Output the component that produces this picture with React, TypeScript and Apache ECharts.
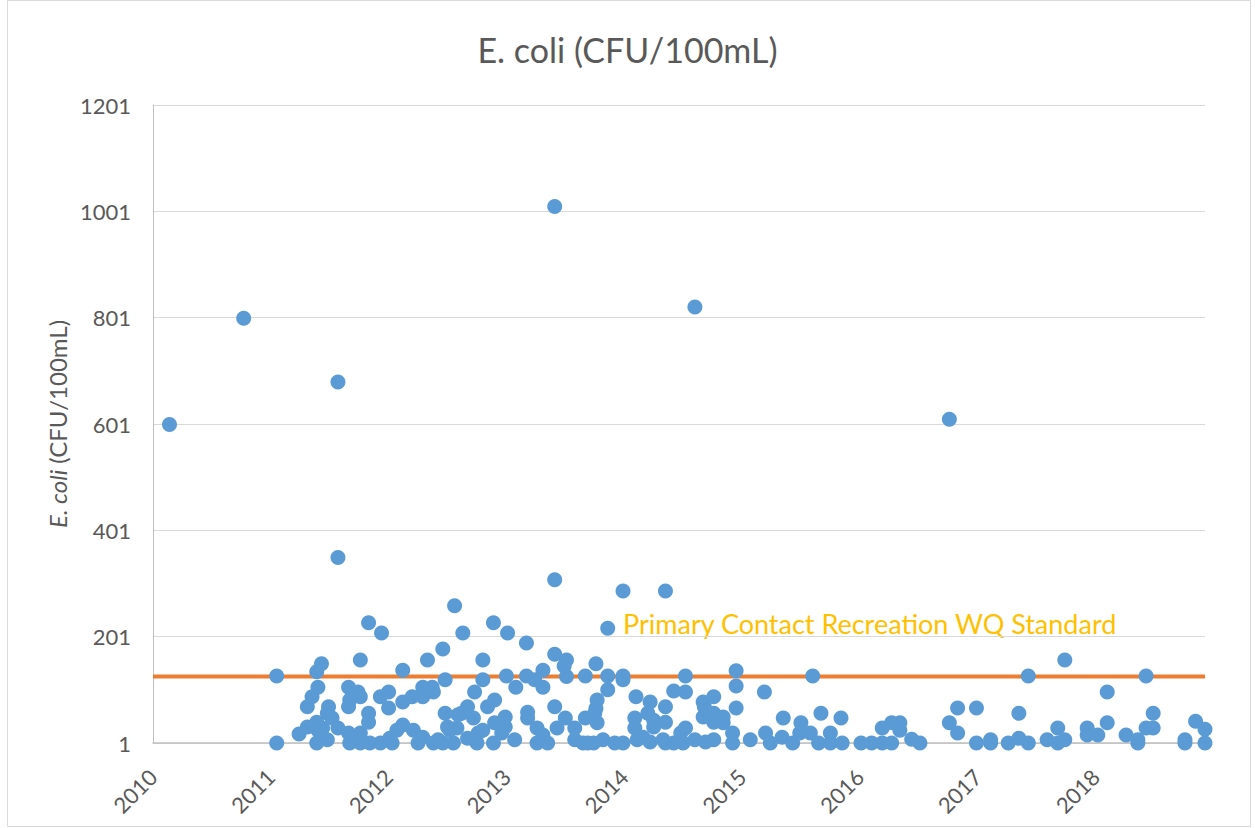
import { useEffect, useRef } from "react";
import * as echarts from "echarts";

const TITLE = "E. coli (CFU/100mL)";
const STANDARD_LABEL = "Primary Contact Recreation WQ Standard";
const STANDARD_VALUE = 126;
const X_MIN = 2010;
const X_MAX = 2018.93;
const Y_MIN = 1;
const Y_MAX = 1201;
const Y_STEP = 200;

// sample dates as decimal years
const sampleDates = [
  2010.14, 2010.77,
  2011.05, 2011.05, 2011.24, 2011.31, 2011.31, 2011.35, 2011.39, 2011.39, 2011.39, 2011.40,
  2011.40, 2011.43, 2011.44, 2011.48, 2011.48, 2011.49, 2011.52, 2011.57, 2011.57, 2011.57,
  2011.66, 2011.66, 2011.66, 2011.67, 2011.67, 2011.74, 2011.76, 2011.76, 2011.76, 2011.76,
  2011.83, 2011.83, 2011.83, 2011.84, 2011.93, 2011.93, 2011.94,
  2012.00, 2012.00, 2012.01, 2012.03, 2012.07, 2012.12, 2012.12, 2012.12, 2012.20, 2012.21,
  2012.25, 2012.29, 2012.29, 2012.29, 2012.33, 2012.37, 2012.38, 2012.38, 2012.42, 2012.46,
  2012.46, 2012.48, 2012.48, 2012.50, 2012.52, 2012.55, 2012.56, 2012.58, 2012.59, 2012.62,
  2012.63, 2012.67, 2012.67, 2012.72, 2012.73, 2012.75, 2012.76, 2012.80, 2012.80, 2012.80,
  2012.84, 2012.89, 2012.89, 2012.90, 2012.90, 2012.96, 2012.99, 2012.99,
  2013.00, 2013.01, 2013.07, 2013.08, 2013.17, 2013.17, 2013.18, 2013.18, 2013.24, 2013.26,
  2013.26, 2013.31, 2013.31, 2013.31, 2013.35, 2013.41, 2013.41, 2013.41, 2013.41, 2013.43,
  2013.49, 2013.51, 2013.51, 2013.50, 2013.58, 2013.58, 2013.65, 2013.67, 2013.67, 2013.69,
  2013.74, 2013.75, 2013.76, 2013.77, 2013.76, 2013.77, 2013.82, 2013.86, 2013.86, 2013.86,
  2013.92, 2013.99, 2013.99, 2013.99, 2013.99,
  2014.10, 2014.09, 2014.09, 2014.11, 2014.16, 2014.20, 2014.22, 2014.22, 2014.25, 2014.25,
  2014.33, 2014.35, 2014.35, 2014.35, 2014.35, 2014.42, 2014.42, 2014.48, 2014.50, 2014.52,
  2014.52, 2014.52, 2014.60, 2014.60, 2014.67, 2014.68, 2014.67, 2014.69, 2014.76, 2014.76,
  2014.76, 2014.76, 2014.84, 2014.84, 2014.92, 2014.92, 2014.95, 2014.95, 2014.95,
  2015.07, 2015.19, 2015.20, 2015.24, 2015.35, 2015.34, 2015.43, 2015.50, 2015.49, 2015.58,
  2015.60, 2015.65, 2015.67, 2015.75, 2015.75, 2015.84, 2015.85,
  2016.01, 2016.10, 2016.19, 2016.19, 2016.27, 2016.27, 2016.34, 2016.34, 2016.44, 2016.51,
  2016.76, 2016.76, 2016.83, 2016.83, 2016.99, 2016.99,
  2017.11, 2017.11, 2017.26, 2017.35, 2017.35, 2017.43, 2017.43, 2017.59, 2017.68, 2017.68,
  2017.74, 2017.74, 2017.93, 2017.93,
  2018.02, 2018.10, 2018.10, 2018.26, 2018.36, 2018.36, 2018.43, 2018.43, 2018.49, 2018.49,
  2018.76, 2018.76, 2018.85, 2018.93, 2018.93,
];

// E. coli (CFU/100mL)
const ecoliValues = [
  600, 800,
  127, 1, 18, 31, 69, 88, 40, 135, 1, 106,
  25, 150, 29, 7, 57, 69, 48, 29, 680, 350,
  106, 69, 20, 82, 1, 97, 88, 157, 20, 1,
  57, 40, 227, 1, 1, 88, 208,
  97, 67, 10, 1, 25, 35, 78, 138, 88, 25,
  1, 106, 88, 12, 157, 106, 97, 1, 7, 178,
  1, 120, 57, 31, 25, 1, 259, 29, 54, 57,
  208, 69, 10, 48, 97, 1, 20, 157, 120, 25,
  69, 227, 1, 82, 39, 20, 31, 50,
  127, 208, 7, 106, 189, 127, 59, 48, 120, 29,
  1, 138, 106, 16, 1, 1010, 308, 168, 69, 29,
  146, 157, 126, 48, 29, 7, 1, 127, 48, 1,
  1, 57, 150, 82, 66, 39, 7, 217, 127, 101,
  1, 287, 127, 120, 1,
  88, 48, 29, 7, 12, 57, 78, 3, 44, 31,
  7, 287, 69, 40, 1, 99, 1, 20, 1, 127,
  97, 29, 821, 7, 78, 69, 50, 3, 88, 57,
  40, 7, 39, 50, 20, 1, 137, 108, 67,
  7, 97, 20, 1, 48, 12, 1, 39, 20, 20,
  127, 1, 57, 20, 1, 48, 1,
  1, 1, 1, 29, 39, 1, 39, 25, 8, 1,
  610, 39, 67, 20, 67, 1,
  7, 1, 1, 10, 57, 127, 1, 7, 29, 1,
  7, 157, 29, 16,
  16, 39, 97, 16, 7, 1, 127, 29, 57, 29,
  7, 1, 42, 27, 1,
];

const FONT = "Lato, 'Open Sans', sans-serif";
const TEXT_GRAY = "#595959";

export default function App() {
  const ref = useRef<HTMLDivElement>(null);

  useEffect(() => {
    const chart = echarts.init(ref.current!, null, { renderer: "svg" });
    const points = sampleDates.map((d, i) => [d, ecoliValues[i]]);
    chart.setOption({
      animation: false,
      backgroundColor: "#ffffff",
      title: {
        text: TITLE,
        left: "center",
        top: 27,
        textStyle: { fontFamily: FONT, fontSize: 34, fontWeight: "normal", color: TEXT_GRAY },
      },
      grid: { left: 153, right: 50, top: 105, bottom: 85, containLabel: false },
      xAxis: {
        type: "value",
        min: X_MIN,
        max: X_MAX,
        interval: 1,
        splitLine: { show: false },
        axisTick: { show: false },
        axisLine: { show: true, lineStyle: { color: "#BFBFBF", width: 1.5 } },
        axisLabel: {
          rotate: 45,
          margin: 30,
          fontFamily: FONT,
          fontSize: 22,
          color: TEXT_GRAY,
          showMaxLabel: false,
          formatter: (v: number) => (Math.abs(v - Math.round(v)) < 1e-6 ? String(Math.round(v)) : ""),
        },
      },
      yAxis: {
        type: "value",
        min: Y_MIN,
        max: Y_MAX,
        interval: Y_STEP,
        name: "{i|E. coli} (CFU/100mL)",
        nameLocation: "middle",
        nameRotate: 90,
        nameGap: 82,
        nameTextStyle: {
          fontFamily: FONT,
          fontSize: 24,
          color: TEXT_GRAY,
          rich: { i: { fontFamily: FONT, fontSize: 24, fontStyle: "italic", color: TEXT_GRAY } },
        },
        axisTick: { show: false },
        axisLine: { show: true, lineStyle: { color: "#BFBFBF", width: 1 } },
        splitLine: { show: true, lineStyle: { color: "#D9D9D9", width: 1 } },
        axisLabel: {
          fontFamily: FONT,
          fontSize: 22,
          color: TEXT_GRAY,
          margin: 22,
          formatter: (v: number) => String(v),
        },
      },
      graphic: [
        {
          type: "rect",
          shape: { x: 7.5, y: 0.5, width: 1243, height: 826 },
          style: { fill: "none", stroke: "#D9D9D9", lineWidth: 1 },
          silent: true,
        },
        {
          type: "text",
          x: 623,
          y: 623,
          style: {
            text: STANDARD_LABEL,
            fill: "#FFC000",
            font: `27px ${FONT}`,
            align: "left",
            verticalAlign: "middle",
          },
          silent: true,
        },
      ],
      series: [
        {
          type: "line",
          name: "Standard",
          data: [
            [X_MIN, STANDARD_VALUE],
            [X_MAX, STANDARD_VALUE],
          ],
          showSymbol: false,
          symbol: "none",
          lineStyle: { color: "#ED7D31", width: 4 },
          z: 1,
          silent: true,
        },
        {
          type: "scatter",
          name: "E. coli",
          data: points,
          symbol: "circle",
          symbolSize: 15,
          itemStyle: { color: "#5B9BD5", opacity: 1 },
          z: 3,
          clip: false,
        },
      ],
    });
    return () => chart.dispose();
  }, []);

  return (
    <div
      ref={ref}
      style={{ position: "fixed", left: 0, top: 0, width: 1255, height: 828, background: "#fff" }}
    />
  );
}
